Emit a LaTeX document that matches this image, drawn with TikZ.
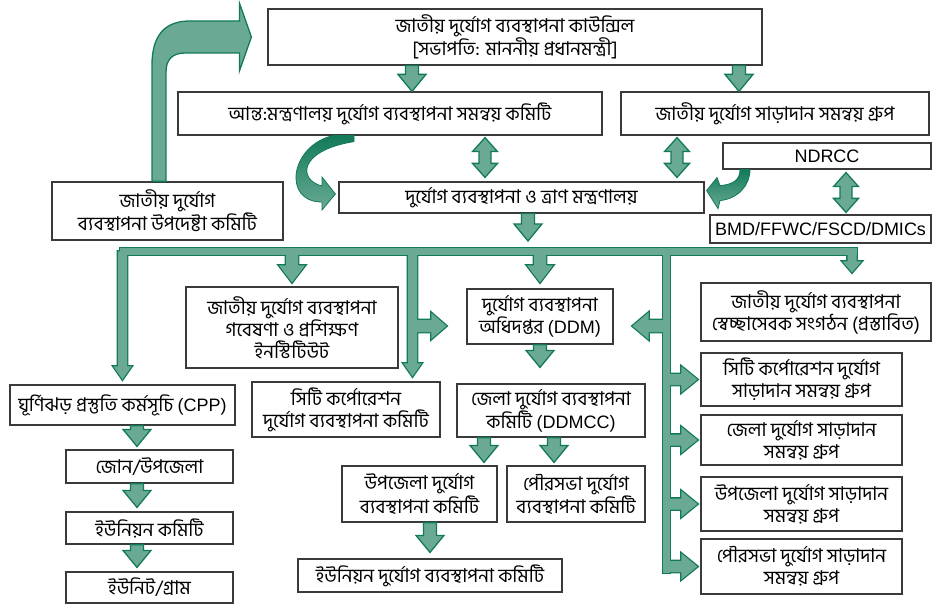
\documentclass[tikz,border=0pt]{standalone}
\usepackage{fontspec}
\setmainfont{Liberation Sans}
\newfontfamily\bn[Script=Bengali]{Hind Siliguri}
\usetikzlibrary{calc}
\definecolor{gdark}{HTML}{127A5A}
\definecolor{glight}{HTML}{6AAA95}
\definecolor{boxline}{HTML}{3A3A3A}
\newcommand\lt[1]{{\rmfamily\fontsize{18}{22}\selectfont #1}}
\newcommand\adown[6]{\path[#1] let \p1=(#2),\p2=(#3) in (\x1-#4,\y1) -- (\x1-#4,\y2+#6) -- (\x1-#5,\y2+#6) -- (\x1,\y2) -- (\x1+#5,\y2+#6) -- (\x1+#4,\y2+#6) -- (\x1+#4,\y1) -- cycle;}
\newcommand\aright[6]{\path[#1] let \p1=(#2),\p2=(#3) in (\x1,\y1+#4) -- (\x2-#6,\y1+#4) -- (\x2-#6,\y1+#5) -- (\x2,\y1) -- (\x2-#6,\y1-#5) -- (\x2-#6,\y1-#4) -- (\x1,\y1-#4) -- cycle;}
\newcommand\aleft[6]{\path[#1] let \p1=(#2),\p2=(#3) in (\x1,\y1+#4) -- (\x2+#6,\y1+#4) -- (\x2+#6,\y1+#5) -- (\x2,\y1) -- (\x2+#6,\y1-#5) -- (\x2+#6,\y1-#4) -- (\x1,\y1-#4) -- cycle;}
\newcommand\adouble[6]{\path[#1] let \p1=(#2),\p2=(#3) in (\x1,\y1) -- (\x1+#5,\y1-#6) -- (\x1+#4,\y1-#6) -- (\x1+#4,\y2+#6) -- (\x1+#5,\y2+#6) -- (\x1,\y2) -- (\x1-#5,\y2+#6) -- (\x1-#4,\y2+#6) -- (\x1-#4,\y1-#6) -- (\x1-#5,\y1-#6) -- cycle;}
\newcommand\treeparts[1]{%
 \path[#1] (busL) rectangle (busR);
 \path[#1] ($(mbar)+(-3.5,-3.5)$) rectangle ($(mbar)+(3.5,321.5)$);
 \adown{#1}{cpp.north |- bus}{[yshift=5pt]cpp.north}{4.5pt}{9pt}{13pt}
 \adown{#1}{drop2}{[yshift=5pt]ccdm.north}{4.5pt}{9pt}{13pt}
 \aright{#1}{$(drop2 |- ddm.west)+(0,9.5)$}{[xshift=-20pt]ddm.west}{6pt}{13pt}{15pt}
 \adown{#1}{inst.north |- bus}{[yshift=4pt]inst.north}{6pt}{13pt}{17pt}
 \adown{#1}{ddm.north |- bus}{[yshift=6pt]ddm.north}{6pt}{13pt}{17pt}
 \adown{#1}{$(vol.north |- bus)+(36,0)$}{[yshift=10pt]vol.north}{4.5pt}{9.5pt}{11pt}
 \aleft{#1}{$(mbar |- ddm.east)+(0,9.5)$}{[xshift=19pt]ddm.east}{6pt}{13.5pt}{16pt}
 \aright{#1}{mbar |- ccr.west}{[xshift=-3pt]ccr.west}{5.5pt}{13pt}{16pt}
 \aright{#1}{mbar |- dr.west}{[xshift=-3pt]dr.west}{5.5pt}{13pt}{16pt}
 \aright{#1}{mbar |- ur.west}{[xshift=-3pt]ur.west}{5.5pt}{13pt}{16pt}
 \aright{#1}{mbar |- pr.west}{[xshift=-3pt]pr.west}{5.5pt}{13pt}{16pt}
}
\begin{document}
\begin{tikzpicture}[x=1pt,y=-1pt,
 box/.style={draw=boxline, line width=1.2pt, fill=white, inner sep=1pt, align=center, font=\bn\fontsize{19}{22}\selectfont},
 blk/.style={fill=glight, draw=gdark, line width=1.3pt, line join=miter},
 curv/.style={top color=gdark, bottom color=glight, draw=gdark, line width=0.8pt}]
\useasboundingbox (0,0) rectangle (935,604);
% boxes
\node[box, minimum width=494pt, minimum height=56pt] (council) at (515,37) {জাতীয় দুর্যোগ ব্যবস্থাপনা কাউন্সিল\\{}[সভাপতি: মাননীয় প্রধানমন্ত্রী]};
\node[box, minimum width=424pt, minimum height=43pt] (inter) at (390,113.5) {আন্ত:মন্ত্রণালয় দুর্যোগ ব্যবস্থাপনা সমন্বয় কমিটি};
\node[box, minimum width=308pt, minimum height=43pt] (resp) at (775,113.5) {জাতীয় দুর্যোগ সাড়াদান সমন্বয় গ্রুপ};
\node[box, minimum width=208pt, minimum height=26pt] (ndrcc) at (827,156) {\lt{NDRCC}};
\node[box, minimum width=221pt, minimum height=28pt] (bmd) at (820.5,229) {\lt{BMD/FFWC/FSCD/DMICs}};
\node[box, minimum width=365pt, minimum height=31pt] (modmr) at (521.5,197.5) {দুর্যোগ ব্যবস্থাপনা ও ত্রাণ মন্ত্রণালয়};
\node[box, minimum width=231pt, minimum height=58pt] (adv) at (167.5,211) {জাতীয় দুর্যোগ\\ব্যবস্থাপনা উপদেষ্টা কমিটি};
\node[box, minimum width=212pt, minimum height=81pt] (inst) at (292,327.5) {জাতীয় দুর্যোগ ব্যবস্থাপনা\\গবেষণা ও প্রশিক্ষণ\\ইনস্টিটিউট};
\node[box, minimum width=146pt, minimum height=55pt] (ddm) at (540,316.5) {দুর্যোগ ব্যবস্থাপনা\\অধিদপ্তর \lt{(DDM)}};
\node[box, minimum width=230pt, minimum height=58pt] (vol) at (816,312) {জাতীয় দুর্যোগ ব্যবস্থাপনা\\স্বেচ্ছাসেবক সংগঠন (প্রস্তাবিত)};
\node[box, minimum width=201pt, minimum height=53pt] (ccr) at (801.5,379.5) {সিটি কর্পোরেশন দুর্যোগ\\সাড়াদান সমন্বয় গ্রুপ};
\node[box, minimum width=201pt, minimum height=50pt] (dr) at (801.5,440) {জেলা দুর্যোগ সাড়াদান\\সমন্বয় গ্রুপ};
\node[box, minimum width=201pt, minimum height=54pt] (ur) at (801.5,504) {উপজেলা দুর্যোগ সাড়াদান\\সমন্বয় গ্রুপ};
\node[box, minimum width=201pt, minimum height=55pt] (pr) at (801.5,566.5) {পৌরসভা দুর্যোগ সাড়াদান\\সমন্বয় গ্রুপ};
\node[box, minimum width=188pt, minimum height=53pt] (ddmcc) at (551,410.5) {জেলা দুর্যোগ ব্যবস্থাপনা\\কমিটি \lt{(DDMCC)}};
\node[box, minimum width=155pt, minimum height=56pt] (upz) at (419.5,494) {উপজেলা দুর্যোগ\\ব্যবস্থাপনা কমিটি};
\node[box, minimum width=138pt, minimum height=56pt] (pdm) at (576,494) {পৌরসভা দুর্যোগ\\ব্যবস্থাপনা কমিটি};
\node[box, minimum width=264pt, minimum height=33pt] (unidm) at (430,575.5) {ইউনিয়ন দুর্যোগ ব্যবস্থাপনা কমিটি};
\node[box, minimum width=188pt, minimum height=55pt] (ccdm) at (346,409.5) {সিটি কর্পোরেশন\\দুর্যোগ ব্যবস্থাপনা কমিটি};
\node[box, minimum width=225pt, minimum height=40pt] (cpp) at (122.5,405) {ঘূর্ণিঝড় প্রস্তুতি কর্মসূচি \lt{(CPP)}};
\node[box, minimum width=167pt, minimum height=33pt] (zone) at (149.5,466.5) {জোন/উপজেলা};
\node[box, minimum width=167pt, minimum height=32pt] (ucom) at (149.5,528) {ইউনিয়ন কমিটি};
\node[box, minimum width=167pt, minimum height=31pt] (unit) at (149.5,587.5) {ইউনিট/গ্রাম};
% bus coordinates
\coordinate (bus) at (120,251.5);
\coordinate (busL) at (120,248);
\coordinate (busR) at (857,255);
\coordinate (drop2) at (412.5,251.5);
\coordinate (mbar) at (666.5,251.5);
% distribution tree (outline pass, then fill pass)
\treeparts{draw=gdark, line width=2.6pt, line join=miter}
\treeparts{fill=glight}
% simple block arrows
\adown{blk}{$(council.south)+(-103,0)$}{inter.north}{6.5pt}{14pt}{17pt}
\adown{blk}{$(council.south)+(224,0)$}{resp.north}{6.5pt}{14pt}{17pt}
\adown{blk}{$(modmr.south)+(6.5,0)$}{$(bus)+(0,-10.5)$}{6.5pt}{14pt}{17pt}
\adown{blk}{ddm.south}{[yshift=16pt]ddmcc.north}{6.5pt}{14pt}{17pt}
\adown{blk}{$(ddmcc.south)+(-67,0)$}{[yshift=3pt]upz.north}{6.5pt}{14pt}{17pt}
\adown{blk}{$(ddmcc.south)+(3,0)$}{[yshift=3pt]pdm.north}{6.5pt}{14pt}{17pt}
\adown{blk}{$(upz.south)+(10.5,0)$}{[yshift=6pt]unidm.north}{6.5pt}{14pt}{17pt}
\adown{blk}{$(cpp.south)+(14.5,0)$}{[yshift=3pt]zone.north}{6.5pt}{14pt}{17pt}
\adown{blk}{$(zone.south)+(-12.5,0)$}{[yshift=4pt]ucom.north}{6.5pt}{14pt}{17pt}
\adown{blk}{$(ucom.south)+(-12.5,0)$}{[yshift=4pt]unit.north}{6.5pt}{14pt}{17pt}
% double arrows
\adouble{blk}{$(inter.south)+(95,2)$}{$(modmr.north)+(0,-4)$}{6pt}{12.5pt}{14pt}
\adouble{blk}{$(resp.south)+(-98,2)$}{$(modmr.north)+(0,-4)$}{6pt}{12.5pt}{14pt}
\adouble{blk}{$(ndrcc.south)+(19,3)$}{$(bmd.north)+(0,-2)$}{6pt}{12.5pt}{14pt}
% bent arrow: advisory committee -> council
\path[blk] let \p1=(adv.north), \p2=(council.west) in
  (\x1-15.5pt,\y1) -- (\x1-15.5pt,\y2-28pt) .. controls (\x1-15.5pt,\y2+2pt) and (\x1-2.5pt,\y2+16pt) .. (\x1+22.5pt,\y2+16pt)
  -- (\x2-28pt,\y2+16pt) -- (\x2-28pt,\y2+34pt) -- (\x2-16pt,\y2) -- (\x2-28pt,\y2-34pt) -- (\x2-28pt,\y2-16pt)
  -- (\x1+17.5pt,\y2-16pt) .. controls (\x1+4.5pt,\y2-16pt) and (\x1-1.5pt,\y2-23pt) .. (\x1-1.5pt,\y2-35pt) -- (\x1-1.5pt,\y1) -- cycle;
% curved arrow: inter-ministerial -> ministry
\path[curv] let \p1=(inter.south), \p2=(modmr.west) in
  (\x1-57pt,\y1) .. controls (\x1-100pt,\y1-10pt) and (\x1-108pt,\y2-4.5pt) .. (\x1-68pt,\y2-4.5pt)
  -- (\x1-68pt,\y2-12.5pt) -- (\x2-3pt,\y2+3.5pt) -- (\x1-68pt,\y2+20.5pt) -- (\x1-68pt,\y2+11.5pt)
  .. controls (\x1-92pt,\y2+17.5pt) and (\x1-92pt,\y1-15pt) .. (\x1-57pt+21pt,\y1-6pt) -- (\x1-36pt,\y1) -- cycle;
% curved arrow: NDRCC -> ministry
\path[curv] let \p1=(ndrcc.south), \p2=(modmr.east) in
  (\x1-87pt,\y1) .. controls (\x1-87pt,\y1-11pt) and (\x1-95pt,\y1-15pt) .. (\x1-107pt,\y1-16pt)
  -- (\x1-110pt,\y1-8pt) -- (\x2+2pt,\y2+7pt) -- (\x1-109pt,\y1-39pt) -- (\x1-107pt,\y1-31pt)
  .. controls (\x1-89pt,\y1-29pt) and (\x1-77pt,\y1-16pt) .. (\x1-77pt,\y1) -- cycle;
\end{tikzpicture}
\end{document}
